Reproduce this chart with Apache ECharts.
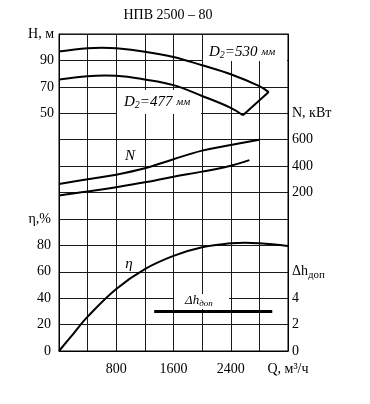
<!DOCTYPE html>
<html><head><meta charset="utf-8">
<script src="https://cdn.jsdelivr.net/npm/echarts@6/dist/echarts.min.js"></script>
<style>html,body{margin:0;padding:0;background:#fff}#c{width:370px;height:404px}</style>
</head><body><div id="c"></div>
<script>
// ---- data ----
const chartTitle = 'НПВ 2500 – 80';
const qTickLabels = {800: '800', 1600: '1600', 2400: '2400', 3200: 'Q, м³/ч'};
const hTickLabels = {50: '50', 70: '70', 90: '90', 110: 'H, м'};
const etaTickLabels = {0: '0', 20: '20', 40: '40', 60: '60', 80: '80', 100: 'η,%'};
const nTickLabels = {200: '200', 400: '400', 600: '600', 800: 'N, кВт'};
const dhTickLabels = {0: '0', 2: '2', 4: '4', 6: '{a|Δh}{s|доп}'};

const head530 = [[0,96.8],[400,99.2],[600,99.6],[800,99.2],[1200,96.6],[1600,92.6],[2000,86.3],[2400,79.5],[2800,70.5],[2930,66]];
const head477 = [[0,75.6],[400,78.1],[650,78.6],[800,78.4],[1200,75.6],[1600,71.3],[2000,63.1],[2400,54.1],[2570,48.5]];
const power530 = [[0,265],[400,301],[800,335],[1200,383],[1600,452],[2000,517],[2400,560],[2800,600]];
const power477 = [[0,178],[400,207],[800,240],[1200,277],[1600,320],[2000,358],[2400,403],[2660,445]];
const efficiency = [[0,0],[200,13],[400,26],[800,47],[1200,62],[1600,72],[2000,78.5],[2400,81.5],[2600,82],[2800,81.5],[3200,79.5]];
const npshReq = [[1330,3],[2980,3]];

// ---- chart ----
const SERIF = 'Liberation Serif';
const chart = echarts.init(document.getElementById('c'), null, {renderer: 'canvas'});
const fmt = map => v => (map[v] !== undefined ? map[v] : '');
const lbl = {color: '#000', fontFamily: SERIF, fontSize: 14};
const curve = (data, yi, w) => ({
  type: 'line', data, yAxisIndex: yi, smooth: 0.4, symbol: 'none',
  lineStyle: {color: '#000', width: w || 2}, z: 2, silent: true
});
const it = (t) => ({fontFamily: SERIF, fontStyle: 'italic', fontSize: 15, fill: '#000', text: t});
const dRich = {i: {fontFamily: SERIF, fontStyle: 'italic', fontSize: 15}, s: {fontFamily: SERIF, fontStyle: 'italic', fontSize: 10, padding: [6,0,0,0]}, m: {fontFamily: SERIF, fontStyle: 'italic', fontSize: 11}};

chart.setOption({
  animation: false,
  backgroundColor: '#fff',
  grid: {left: 59, right: 82, top: 34, bottom: 53, show: true, borderColor: '#000', borderWidth: 1},
  xAxis: {
    type: 'value', min: 0, max: 3200, interval: 400,
    axisLine: {show: true, lineStyle: {color: '#000'}}, axisTick: {show: false},
    splitLine: {show: true, lineStyle: {color: '#1a1a1a', width: 1}},
    axisLabel: Object.assign({formatter: fmt(qTickLabels), margin: 11, showMinLabel: true, showMaxLabel: true}, lbl)
  },
  yAxis: [
    {type: 'value', position: 'left', min: 0, max: 240, interval: 20,
     axisLine: {show: true, lineStyle: {color: '#000'}}, axisTick: {show: false},
     splitLine: {show: true, lineStyle: {color: '#1a1a1a', width: 1}},
     axisLabel: Object.assign({formatter: fmt(etaTickLabels), margin: 8}, lbl)},
    {type: 'value', position: 'left', min: -130, max: 110, interval: 10,
     axisLine: {show: false}, axisTick: {show: false}, splitLine: {show: false},
     axisLabel: Object.assign({formatter: fmt(hTickLabels), margin: 5, showMaxLabel: true, padding: [0,0,-3,0]}, lbl)},
    {type: 'value', position: 'right', min: -1000, max: 1400, interval: 200,
     axisLine: {show: true, lineStyle: {color: '#000'}}, axisTick: {show: false}, splitLine: {show: false},
     axisLabel: Object.assign({formatter: fmt(nTickLabels), margin: 4}, lbl)},
    {type: 'value', position: 'right', min: 0, max: 24, interval: 2,
     axisLine: {show: false}, axisTick: {show: false}, splitLine: {show: false},
     axisLabel: Object.assign({formatter: fmt(dhTickLabels), margin: 4,
       rich: {a: {fontFamily: SERIF, fontSize: 14, color: '#000'},
              s: {fontFamily: SERIF, fontSize: 11, color: '#000', padding: [6, 0, 0, 0]}}}, lbl)}
  ],
  series: [
    curve(head530, 1),
    curve(head477, 1),
    Object.assign(curve([head530[head530.length - 1], head477[head477.length - 1]], 1), {smooth: false}),
    curve(power530, 2),
    curve(power477, 2),
    curve(efficiency, 0),
    Object.assign(curve(npshReq, 3, 3), {smooth: false})
  ],
  graphic: [
    {type: 'text', x: 168, y: 15, z: 5, style: {text: chartTitle, fontFamily: SERIF, fontSize: 14, fill: '#000', align: 'center', verticalAlign: 'middle'}},
    {type: 'rect', z: 1, shape: {x: 203, y: 35, width: 84, height: 26}, style: {fill: '#fff'}},
    {type: 'rect', z: 1, shape: {x: 117, y: 90, width: 84, height: 24}, style: {fill: '#fff'}},
    {type: 'rect', z: 1, shape: {x: 174, y: 294, width: 55, height: 15}, style: {fill: '#fff'}},
    {type: 'text', x: 209, y: 52, z: 5, style: {text: '{i|D}{s|2}{i|=530 }{m|мм}', verticalAlign: 'middle', rich: dRich}},
    {type: 'text', x: 124, y: 102, z: 5, style: {text: '{i|D}{s|2}{i|=477 }{m|мм}', verticalAlign: 'middle', rich: dRich}},
    {type: 'text', x: 130, y: 156, z: 5, style: Object.assign(it('N'), {align: 'center', verticalAlign: 'middle'})},
    {type: 'text', x: 129, y: 264, z: 5, style: Object.assign(it('η'), {align: 'center', verticalAlign: 'middle'})},
    {type: 'text', x: 185, y: 301, z: 5, style: {text: '{i|Δh}{s|доп}', verticalAlign: 'middle',
      rich: {i: {fontFamily: SERIF, fontStyle: 'italic', fontSize: 13}, s: {fontFamily: SERIF, fontStyle: 'italic', fontSize: 9, padding: [5,0,0,0]}}}}
  ]
});
</script>
</body></html>
